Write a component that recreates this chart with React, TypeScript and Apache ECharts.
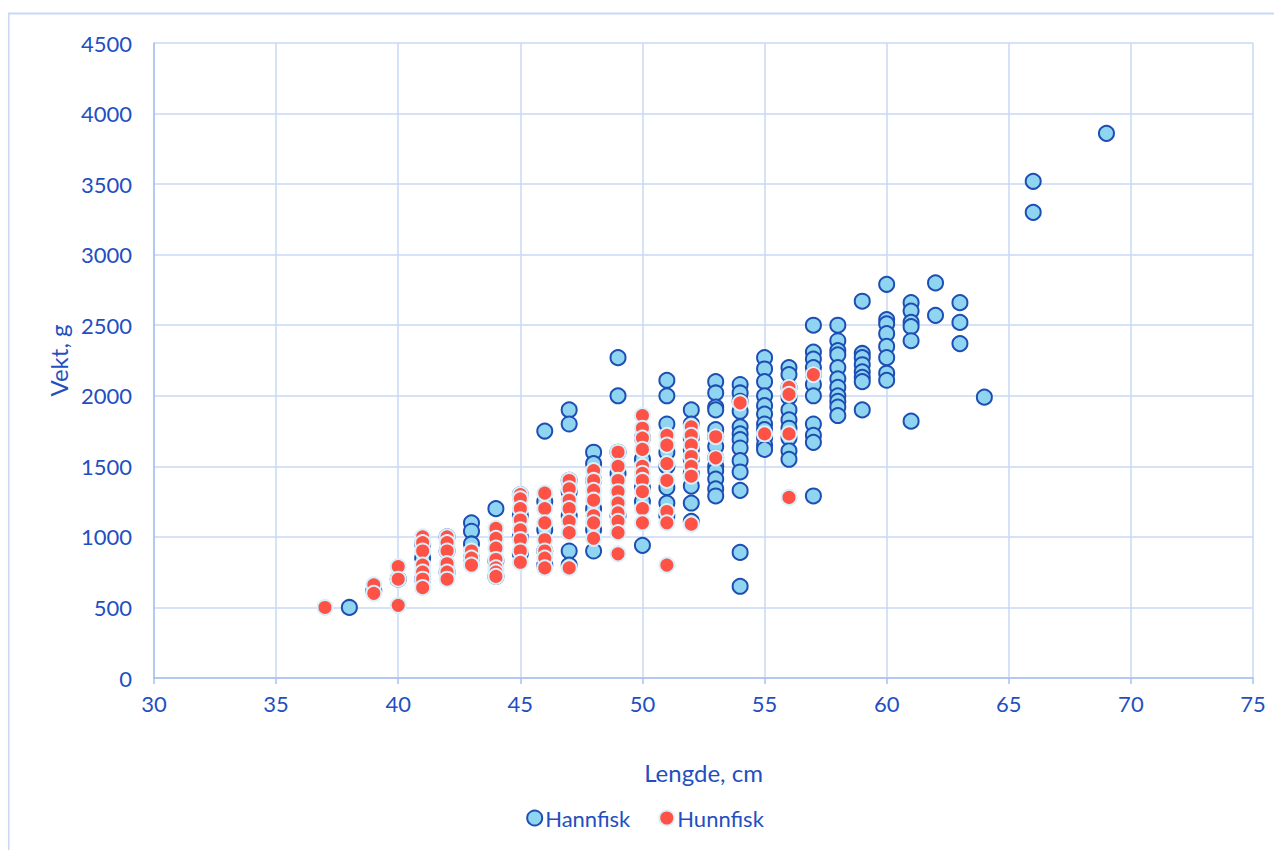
import React, { useEffect, useRef } from "react";
import * as echarts from "echarts";

// [length cm, weights g]
const hannfisk: [number, number[]][] = [
  [38, [500]],
  [39, [620]],
  [40, [700]],
  [41, [700, 850, 950]],
  [42, [750, 900, 1000]],
  [43, [1100, 1040, 950, 850]],
  [44, [1200, 830, 720]],
  [45, [1300, 1150, 1000, 880]],
  [46, [1750, 1250, 1050, 900, 800]],
  [47, [1900, 1800, 1400, 1320, 1150, 900, 800]],
  [48, [1600, 1520, 1400, 1200, 1050, 900]],
  [49, [2270, 2000, 1600, 1450, 1150]],
  [50, [1700, 1550, 1350, 1250, 940]],
  [51, [2110, 2000, 1800, 1600, 1500, 1350, 1240, 1150]],
  [52, [1900, 1800, 1700, 1620, 1550, 1450, 1360, 1240, 1110]],
  [53, [2100, 2020, 1920, 1900, 1760, 1710, 1640, 1560, 1500, 1470, 1410, 1340, 1290]],
  [54, [2080, 2020, 1960, 1890, 1780, 1730, 1690, 1630, 1540, 1460, 1330, 890, 650]],
  [55, [2270, 2190, 2100, 2000, 1930, 1870, 1800, 1760, 1700, 1650, 1620]],
  [56, [2200, 2150, 2060, 1990, 1900, 1830, 1770, 1700, 1610, 1550]],
  [57, [2500, 2310, 2260, 2200, 2150, 2080, 2000, 1800, 1720, 1670, 1290]],
  [58, [2500, 2390, 2320, 2290, 2200, 2120, 2060, 2000, 1960, 1920, 1860]],
  [59, [2670, 2300, 2270, 2220, 2170, 2130, 2100, 1900]],
  [60, [2790, 2540, 2510, 2440, 2350, 2270, 2160, 2110]],
  [61, [2660, 2600, 2520, 2490, 2390, 1820]],
  [62, [2800, 2570]],
  [63, [2660, 2520, 2370]],
  [64, [1990]],
  [66, [3520, 3300]],
  [69, [3860]],
];

const hunnfisk: [number, number[]][] = [
  [37, [500]],
  [39, [660, 600]],
  [40, [790, 700, 515]],
  [41, [1000, 960, 900, 800, 750, 700, 640]],
  [42, [1000, 960, 900, 810, 750, 700]],
  [43, [900, 850, 800]],
  [44, [1060, 990, 920, 840, 780, 750, 720]],
  [45, [1300, 1270, 1200, 1120, 1050, 980, 900, 820]],
  [46, [1310, 1200, 1100, 980, 900, 850, 780]],
  [47, [1400, 1340, 1260, 1200, 1110, 1030, 780]],
  [48, [1470, 1400, 1330, 1260, 1150, 1100, 990]],
  [49, [1600, 1500, 1400, 1320, 1240, 1170, 1110, 1030, 880]],
  [50, [1860, 1770, 1700, 1620, 1500, 1450, 1400, 1320, 1200, 1100]],
  [51, [1720, 1650, 1520, 1400, 1180, 1100, 800]],
  [52, [1780, 1720, 1650, 1570, 1500, 1430, 1090]],
  [53, [1710, 1560]],
  [54, [1950]],
  [55, [1730]],
  [56, [2060, 2010, 1730, 1280]],
  [57, [2150]],
];

const seriesNames = ["Hannfisk", "Hunnfisk"];
const xTitle = "Lengde, cm";
const yTitle = "Vekt, g";

const flatten = (rows: [number, number[]][]) =>
  rows.flatMap(([l, ws]) => ws.map((w) => [l, w]));

const TEXT = "#1f4fc1";
const GRID = "#c9d8f5";
const AXIS = "#a9c1ef";
const FONT = "Lato";

export default function App() {
  const ref = useRef<HTMLDivElement>(null);
  useEffect(() => {
    if (!ref.current) return;
    const chart = echarts.init(ref.current, null, { renderer: "svg" });
    chart.setOption({
      animation: false,
      backgroundColor: "#ffffff",
      textStyle: { fontFamily: FONT, color: TEXT },
      graphic: [
        {
          type: "rect",
          shape: { x: 0.5, y: 5.5, width: 1400, height: 1000 },
          style: { fill: "none", stroke: GRID, lineWidth: 2 },
          silent: true,
          z: -10,
        },
      ],
      grid: { left: 146, right: 29, top: 35, bottom: 172 },
      xAxis: {
        type: "value",
        min: 30,
        max: 75,
        interval: 5,
        name: xTitle,
        nameLocation: "middle",
        nameGap: 82,
        nameTextStyle: { fontFamily: FONT, fontSize: 24, color: TEXT },
        axisLine: { show: true, lineStyle: { color: AXIS, width: 1.5 } },
        axisTick: { show: true, length: 6, lineStyle: { color: AXIS, width: 1.5 } },
        axisLabel: { fontFamily: FONT, fontSize: 22, color: TEXT, margin: 14 },
        splitLine: { show: true, lineStyle: { color: GRID, width: 1.5 } },
      },
      yAxis: {
        type: "value",
        min: 0,
        max: 4500,
        interval: 500,
        name: yTitle,
        nameLocation: "middle",
        nameGap: 76,
        nameTextStyle: { fontFamily: FONT, fontSize: 24, color: TEXT },
        axisLine: { show: true, lineStyle: { color: AXIS, width: 1.5 } },
        axisTick: { show: false },
        axisLabel: {
          fontFamily: FONT,
          fontSize: 22,
          color: TEXT,
          margin: 22,
          formatter: (v: number) => String(v),
        },
        splitLine: { show: true, lineStyle: { color: GRID, width: 1.5 } },
      },
      legend: {
        data: seriesNames,
        bottom: 16,
        left: "center",
        itemWidth: 15,
        itemHeight: 15,
        itemGap: 28,
        textStyle: { fontFamily: FONT, fontSize: 22, color: TEXT, padding: [0, 0, 0, -2] },
      },
      series: [
        {
          name: seriesNames[0],
          type: "scatter",
          symbol: "circle",
          symbolSize: 15,
          data: flatten(hannfisk),
          itemStyle: { color: "#8fd5f1", borderColor: "#1d4eb4", borderWidth: 2, opacity: 1 },
        },
        {
          name: seriesNames[1],
          type: "scatter",
          symbol: "circle",
          symbolSize: 15,
          data: flatten(hunnfisk),
          itemStyle: { color: "#ff5246", borderColor: "#d7f0fb", borderWidth: 2, opacity: 1 },
        },
      ],
    });
    return () => chart.dispose();
  }, []);
  return <div ref={ref} style={{ width: 1274, height: 842 }} />;
}
